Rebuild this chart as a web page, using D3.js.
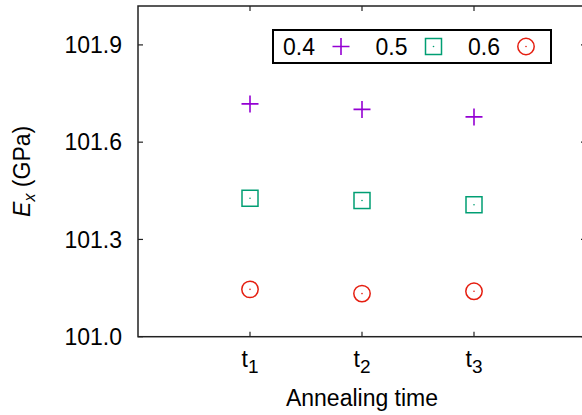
<!DOCTYPE html>
<html>
<head>
<meta charset="utf-8">
<script src="https://cdn.jsdelivr.net/npm/d3@7"></script>
<style>
  body { margin: 0; background: #fff; }
  text { font-family: "Liberation Sans", Arial, sans-serif; fill: #000; }
</style>
</head>
<body>
<svg class="chart" width="582" height="415"></svg>
<script>
const timeLabels = ['1', '2', '3'];
const seriesNames = ['0.4', '0.5', '0.6'];
const values04 = [101.718, 101.701, 101.678];
const values05 = [101.427, 101.420, 101.407];
const values06 = [101.146, 101.133, 101.140];
const yTicks = [101.0, 101.3, 101.6, 101.9];

const chart = d3.select('.chart');
const margin = { top: 6, left: 138 };
const innerWidth = 448;
const innerHeight = 330.7;

const xScale = d3.scaleLinear().domain([0, 4]).range([0, innerWidth]);
const yScale = d3.scaleLinear().domain([101.0, 102.02]).range([innerHeight, 0]);

const colors = ['#9400d3', '#009e73', '#e51e10'];
const series = [values04, values05, values06].map((vals, i) => ({
    name: seriesNames[i],
    color: colors[i],
    shape: i,
    points: vals.map((v, j) => ({ x: j + 1, y: v }))
}));

const g = chart.append('g')
    .attr('transform', `translate(${margin.left},${margin.top})`);

// frame
g.append('rect')
    .attr('width', innerWidth).attr('height', innerHeight)
    .attr('fill', 'none').attr('stroke', '#222').attr('stroke-width', 1.5);

const tickLen = 5;

// y ticks left + right
const yAxis = g.append('g');
yTicks.forEach(t => {
    const y = yScale(t);
    yAxis.append('line').attr('x1', 0).attr('x2', tickLen).attr('y1', y).attr('y2', y)
        .attr('stroke', '#222').attr('stroke-width', 1.2);
    yAxis.append('line').attr('x1', innerWidth - tickLen).attr('x2', innerWidth).attr('y1', y).attr('y2', y)
        .attr('stroke', '#222').attr('stroke-width', 1.2);
    yAxis.append('text')
        .attr('x', -16).attr('y', y).attr('dy', '0.36em')
        .attr('text-anchor', 'end')
        .style('font-size', '23px')
        .text(t.toFixed(1));
});

// x ticks bottom + top
const xAxis = g.append('g');
timeLabels.forEach((lab, i) => {
    const x = xScale(i + 1);
    xAxis.append('line').attr('x1', x).attr('x2', x).attr('y1', innerHeight).attr('y2', innerHeight - tickLen)
        .attr('stroke', '#222').attr('stroke-width', 1.2);
    xAxis.append('line').attr('x1', x).attr('x2', x).attr('y1', 0).attr('y2', tickLen)
        .attr('stroke', '#222').attr('stroke-width', 1.2);
    const t = xAxis.append('text')
        .attr('x', x).attr('y', innerHeight + 30)
        .attr('text-anchor', 'middle')
        .style('font-size', '23px');
    t.append('tspan').text('t');
    t.append('tspan').attr('dy', 6).style('font-size', '19px').text(lab);
});

// axis titles
g.append('text')
    .attr('x', innerWidth / 2).attr('y', innerHeight + 69)
    .attr('text-anchor', 'middle')
    .style('font-size', '23px')
    .text('Annealing time');

const yl = chart.append('text')
    .attr('transform', `translate(30,${margin.top + innerHeight / 2}) rotate(-90)`)
    .attr('text-anchor', 'middle')
    .style('font-size', '23px');
yl.append('tspan').style('font-style', 'italic').text('E');
yl.append('tspan').attr('dy', 5).style('font-style', 'italic').style('font-size', '16px').text('x');
yl.append('tspan').attr('dy', -5).text(' (GPa)');

// markers
const drawMarker = (sel, shape, color, x, y) => {
    const s = 8.5;
    if (shape === 0) {
        sel.append('path')
            .attr('d', `M${x - s},${y}H${x + s}M${x},${y - s}V${y + s}`)
            .attr('stroke', color).attr('stroke-width', 1.6).attr('fill', 'none');
    } else if (shape === 1) {
        sel.append('rect')
            .attr('x', x - s + 0.5).attr('y', y - s + 0.5).attr('width', 2 * s - 1).attr('height', 2 * s - 1)
            .attr('stroke', color).attr('stroke-width', 1.5).attr('fill', 'none');
        sel.append('circle').attr('cx', x).attr('cy', y).attr('r', 0.8).attr('fill', color);
    } else {
        sel.append('circle')
            .attr('cx', x).attr('cy', y).attr('r', s - 0.3)
            .attr('stroke', color).attr('stroke-width', 1.5).attr('fill', 'none');
        sel.append('circle').attr('cx', x).attr('cy', y).attr('r', 0.8).attr('fill', color);
    }
};

series.forEach(s => {
    const sg = g.append('g');
    s.points.forEach(p => drawMarker(sg, s.shape, s.color, xScale(p.x), yScale(p.y)));
});

// legend
const legend = chart.append('g');
legend.append('rect')
    .attr('x', 273).attr('y', 30).attr('width', 278).attr('height', 33)
    .attr('fill', '#fff').attr('stroke', '#000').attr('stroke-width', 2);
const legendTextX = [283, 375.5, 468];
const legendMarkX = [341, 433.5, 526];
series.forEach((s, i) => {
    legend.append('text')
        .attr('x', legendTextX[i]).attr('y', 46.5).attr('dy', '0.36em')
        .style('font-size', '23px')
        .text(s.name);
    drawMarker(legend, s.shape, s.color, legendMarkX[i], 46.5);
});
</script>
</body>
</html>
